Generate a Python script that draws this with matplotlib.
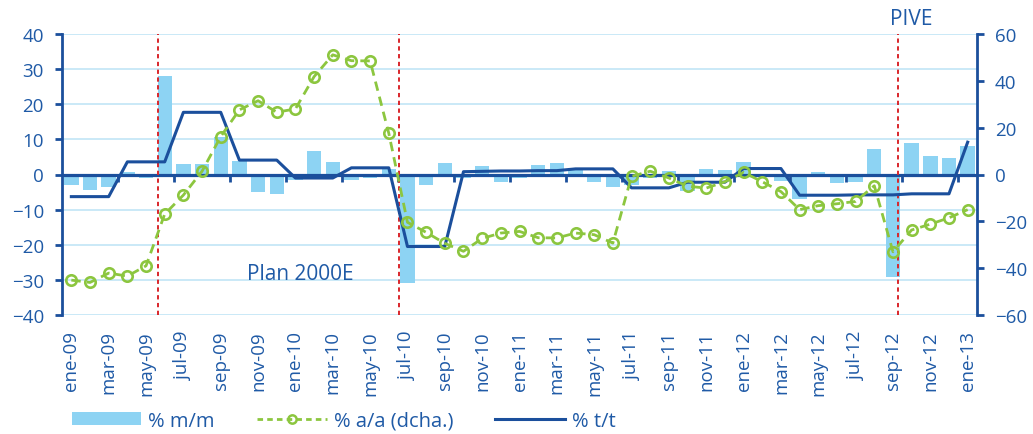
import matplotlib
matplotlib.use("Agg")
import matplotlib.pyplot as plt
from matplotlib.lines import Line2D
from matplotlib.patches import Patch

plt.rcParams['font.family'] = ['Open Sans', 'DejaVu Sans']

categories = [
    "ene-09", "feb-09", "mar-09", "abr-09", "may-09", "jun-09", "jul-09", "ago-09", "sep-09", "oct-09", "nov-09", "dic-09",
    "ene-10", "feb-10", "mar-10", "abr-10", "may-10", "jun-10", "jul-10", "ago-10", "sep-10", "oct-10", "nov-10", "dic-10",
    "ene-11", "feb-11", "mar-11", "abr-11", "may-11", "jun-11", "jul-11", "ago-11", "sep-11", "oct-11", "nov-11", "dic-11",
    "ene-12", "feb-12", "mar-12", "abr-12", "may-12", "jun-12", "jul-12", "ago-12", "sep-12", "oct-12", "nov-12", "dic-12",
    "ene-13",
]

mm = [
    -3.0, -4.3, -3.5, 0.6, -1.0, 28.0, 3.1, 3.0, 10.6, 3.9, -5.1, -5.5,
    -1.6, 6.6, 3.5, -1.6, -1.0, 1.6, -30.9, -3.0, 3.4, -1.1, 2.4, -2.1,
    -1.0, 2.8, 3.3, 1.9, -2.2, -3.5, -2.9, -1.1, 0.9, -4.7, 1.6, 1.2,
    3.6, -0.5, -1.8, -7.0, 0.6, -2.5, -2.2, 7.2, -29.3, 8.9, 5.4, 4.6,
    8.0,
]

aa = [
    -45.1, -46.1, -42.1, -43.4, -39.0, -16.9, -8.8, 1.4, 16.2, 27.6, 31.5, 26.6,
    28.0, 41.8, 51.1, 48.6, 48.5, 17.6, -20.4, -24.7, -29.4, -32.8, -27.3, -25.0,
    -24.3, -27.0, -27.1, -25.0, -25.7, -29.3, -0.8, 1.4, -1.5, -5.0, -5.8, -3.1,
    0.9, -3.1, -7.3, -15.0, -13.3, -12.5, -11.5, -4.8, -33.0, -23.7, -21.2, -18.5,
    -15.0,
]

tt = [
    -6.3, -6.3, -6.3, 3.6, 3.6, 3.6, 17.7, 17.7, 17.7, 4.1, 4.1, 4.1,
    -1.0, -1.0, -1.0, 1.9, 1.9, 1.9, -20.5, -20.5, -20.5, 0.8, 0.9, 1.0,
    1.0, 1.1, 1.1, 1.6, 1.6, 1.6, -3.8, -3.8, -3.8, -2.2, -2.2, -2.2,
    1.7, 1.7, 1.7, -5.9, -5.9, -5.9, -5.8, -5.8, -5.8, -5.5, -5.5, -5.5,
    9.2,
]

event_positions = [4.64, 17.53, 44.25]
event_labels = ["Plan 2000E", "PIVE"]

TXT = '#1F5AA6'
DARK = '#1B4F9C'
BAR = '#8DD3F3'
GREEN = '#8CC63F'
GRID = '#C6E7F7'
RED = '#D9262B'
FS = 13.5
FS_ANN = 15
FS_LEG = 14.5

fig = plt.figure(figsize=(10.33, 4.35), dpi=100)
ax = fig.add_axes([62/1033, 1-316/435, (977-62)/1033, (316-35)/435])
ax2 = ax.twinx()

x = list(range(len(categories)))

ax.set_xlim(-0.5, len(categories)-0.5)
ax.set_ylim(-40, 40)
ax2.set_ylim(-60, 60)

ax.set_yticks(range(-40, 41, 10))
ax2.set_yticks(range(-60, 61, 20))
for v in range(-40, 41, 10):
    ax.axhline(v, color=GRID, lw=1.3, zorder=0)

ax.bar(x, mm, width=0.77, color=BAR, zorder=2)
ax.axhline(0, color=DARK, lw=2.3, zorder=3)
# small ticks on zero line every 3 months
for k in range(3, len(categories)+1, 3):
    ax.plot([k-0.5, k-0.5], [0, -2.0], color=DARK, lw=2, zorder=3, solid_capstyle='butt')

ax.plot(x, tt, color=DARK, lw=2.2, zorder=4)

for pos in event_positions:
    ax.axvline(pos, color=RED, lw=1.4, ls=(0, (2.2, 1.8)), zorder=3)

ax.text(9.41, -28.3, event_labels[0], color=TXT, fontsize=FS_ANN, ha='left', va='center')
ax.text(45.0, 44.3, event_labels[1], color=TXT, fontsize=FS_ANN, ha='center', va='center', clip_on=False)

ax2.plot(x, aa, color=GREEN, lw=2.0, ls=(0, (3.4, 2.2)), marker='o', markersize=7.5,
         markerfacecolor='none', markeredgecolor=GREEN, markeredgewidth=1.9, zorder=5)

# axes styling
for a in (ax, ax2):
    for s in ('top', 'bottom'):
        a.spines[s].set_visible(False)
ax.spines['left'].set_color(DARK)
ax.spines['left'].set_linewidth(2)
ax.spines['right'].set_visible(False)
ax2.spines['left'].set_visible(False)
ax2.spines['right'].set_color(DARK)
ax2.spines['right'].set_linewidth(2)

ax.tick_params(axis='y', colors=DARK, labelcolor=TXT, labelsize=FS, length=5, width=2, pad=8, direction='out')
ax2.tick_params(axis='y', colors=DARK, labelcolor=TXT, labelsize=FS, length=5, width=2, pad=8, direction='out')

ax.set_xticks(x[::2])
ax.set_xticklabels(categories[::2], rotation=90, color=TXT, fontsize=FS, va='top', ha='center')
ax.tick_params(axis='x', length=0, pad=11)

handles = [
    Patch(facecolor=BAR, edgecolor='none'),
    Line2D([], [], color=GREEN, lw=2.0, ls=(0, (2, 1.5)), marker='o', markersize=6,
           markerfacecolor='none', markeredgecolor=GREEN, markeredgewidth=1.8),
    Line2D([], [], color=DARK, lw=2.2),
]
labels = ["% m/m", "% a/a (dcha.)", "% t/t"]
leg = fig.legend(handles, labels, loc='center left', bbox_to_anchor=(0.0695, 0.031), ncol=3,
                 frameon=False, fontsize=FS_LEG, handlelength=3.45, handleheight=0.65, handletextpad=0.35,
                 columnspacing=2.1, borderpad=0, borderaxespad=0, numpoints=1)
for t in leg.get_texts():
    t.set_color(TXT)

fig.savefig("out.png", dpi=100)
